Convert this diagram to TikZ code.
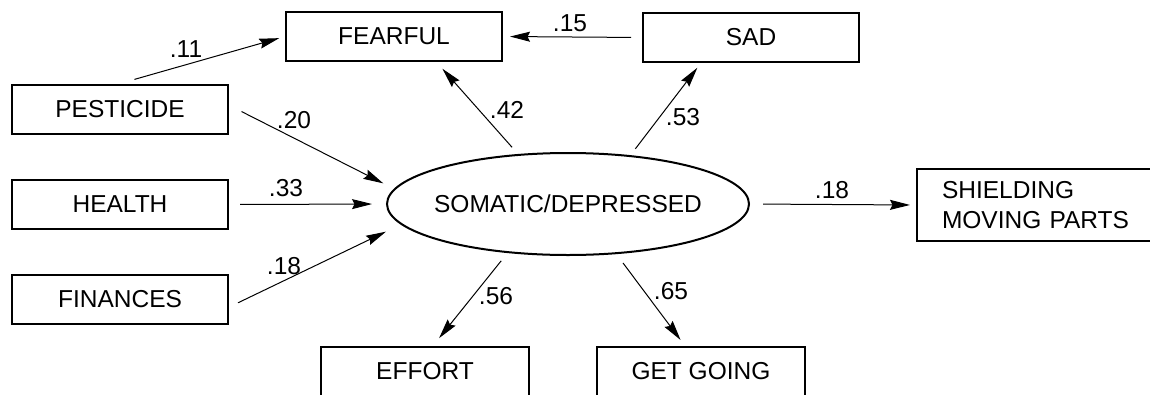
\documentclass[tikz,border=0pt]{standalone}
\usepackage{fontspec}
\setmainfont{Liberation Sans}
\usetikzlibrary{shapes.geometric,arrows.meta}
\begin{document}
\begin{tikzpicture}[x=1pt,y=-1pt,
  font=\fontsize{24.5}{30.6}\selectfont,
  box/.style={draw,line width=2pt,rectangle,minimum width=216pt,minimum height=49pt,inner sep=0pt},
  latent/.style={draw,line width=2pt,ellipse,minimum width=362pt,minimum height=102pt,inner xsep=-10pt,inner ysep=0pt},
  arr/.style={line width=1pt,-{Stealth[length=20pt,width=10pt,inset=2.5pt]}},
  coef/.style={inner sep=0pt}]
\useasboundingbox (0,0) rectangle (1150,394);

% observed indicators and predictors
\node[box] (fear)   at (394,36.5)  {FEARFUL};
\node[box] (sad)    at (751,37.5)  {SAD};
\node[box] (pest)   at (120,109)   {PESTICIDE};
\node[box] (health) at (120,204.5) {HEALTH};
\node[box] (fin)    at (120,299.5) {FINANCES};
\node[box,anchor=west,minimum width=320pt,minimum height=72pt,text width=270pt,align=left] (shield) at (916,205) {SHIELDING\\MOVING PARTS};
\node[box,minimum width=208pt] (effort) at (425,371.5) {EFFORT};
\node[box,minimum width=208pt] (go)     at (701,371.5) {GET GOING};

% latent factor
\node[latent] (som) at (568,204) {SOMATIC/DEPRESSED};

% paths
\draw[arr,shorten <=15pt,shorten >=6pt]    (pest.north)  -- (fear.west);
\draw[arr,shorten <=11pt,shorten >=7pt]    (sad.west)    -- (fear.east);
\draw[arr,shorten <=9pt,shorten >=9pt]     (som.135)     -- (fear.-31.5);
\draw[arr,shorten <=8pt,shorten >=6pt]     (som.38)      -- (sad.207.5);
\draw[arr,shorten <=14pt,shorten >=12pt]   (pest.2)      -- (som.175.7);
\draw[arr,shorten <=11pt,shorten >=14pt]   (health.east) -- (som.west);
\draw[arr,shorten <=10pt,shorten >=16.5pt] (fin.-4.7)    -- (som.187.2);
\draw[arr,shorten <=13pt,shorten >=6pt]    (som.east)    -- (shield.west);
\draw[arr,shorten <=10pt,shorten >=10pt]   (som.219.4)   -- (effort.73);
\draw[arr,shorten <=11pt,shorten >=7.5pt]  (som.-46.7)   -- (go.122.2);

% path coefficients
\node[coef] (c11)  at (186,49)  {.11};
\node[coef] (c15)  at (570,23)  {.15};
\node[coef] (c42)  at (507,110) {.42};
\node[coef] (c53)  at (683,117) {.53};
\node[coef] (c20)  at (294,120) {.20};
\node[coef] (c33)  at (286,188) {.33};
\node[coef] (c18a) at (284,266) {.18};
\node[coef] (c18b) at (832,190) {.18};
\node[coef] (c56)  at (496,296) {.56};
\node[coef] (c65)  at (671,291) {.65};
\end{tikzpicture}
\end{document}
